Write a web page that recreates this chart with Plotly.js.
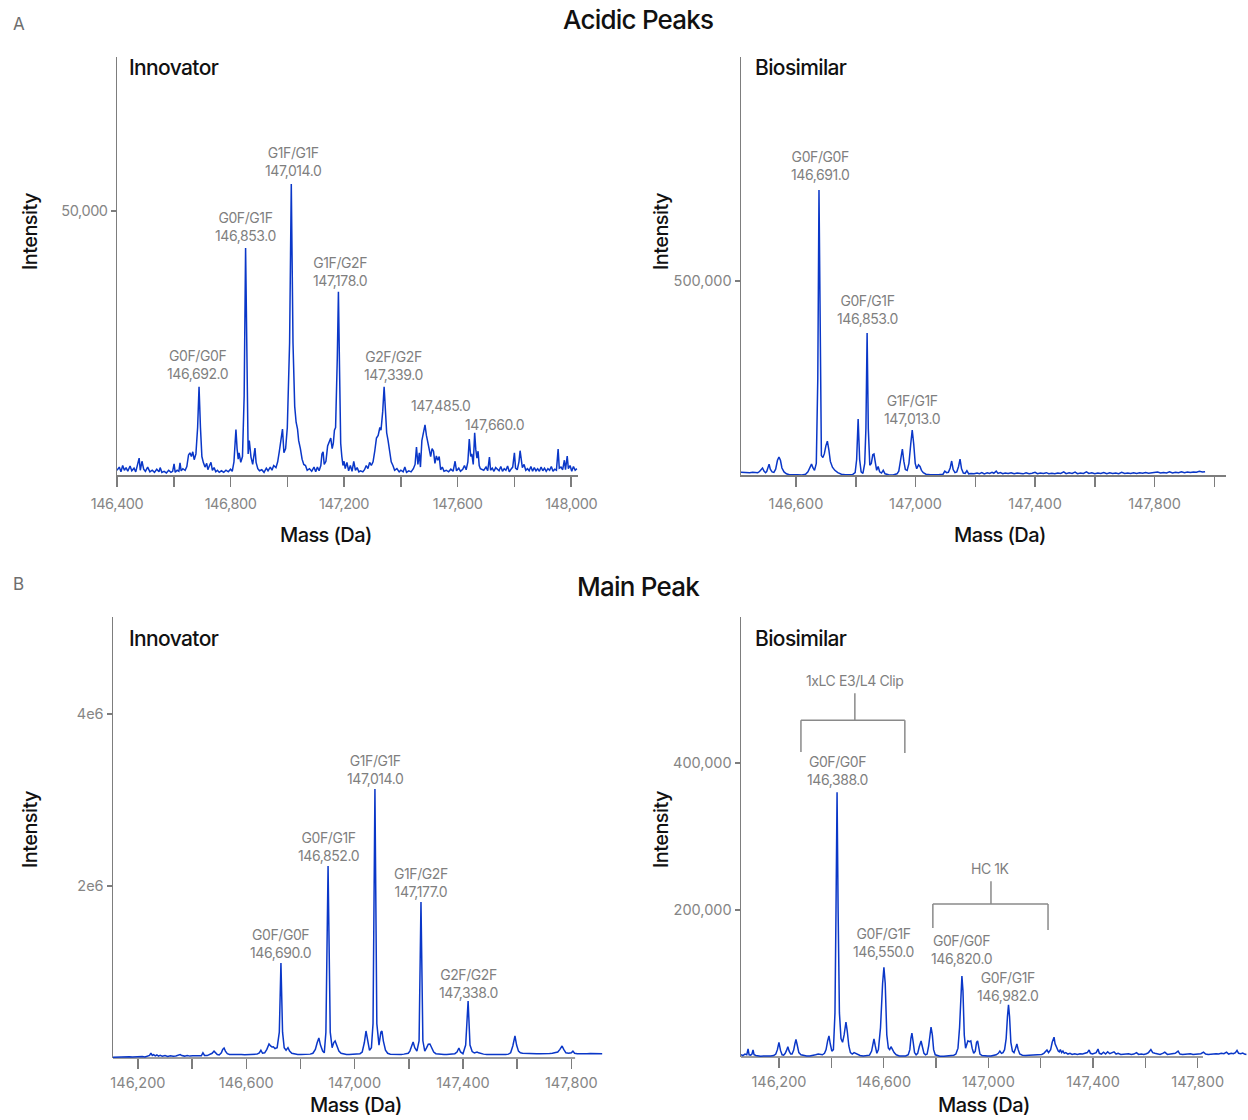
<!DOCTYPE html>
<html>
<head>
<meta charset="utf-8">
<script src="https://cdn.plot.ly/plotly-3.0.1.min.js"></script>
<style>
html, body { margin: 0; padding: 0; background: #ffffff; }
#chart { width: 1248px; height: 1120px; }
.xtick text, .ytick text, .annotation-text { letter-spacing: -0.03em; }
</style>
</head>
<body>
<div id="chart"></div>
<script>
// ---------- DATA ----------
// A. Acidic peaks, Innovator: [mass (Da), intensity]
const acidInnSpectrum = [
[146400,900],[146408,1500],[146414,600],[146420,1800],[146426,900],[146432,1400],[146438,700],[146446,1700],
[146452,800],[146460,1300],[146466,600],[146472,1900],[146478,3200],[146482,900],[146488,2600],[146494,1100],
[146500,700],[146508,1500],[146516,600],[146524,900],[146532,500],[146540,1100],[146548,600],[146552,1400],
[146558,500],[146566,700],[146574,400],[146582,900],[146590,500],[146596,700],[146601,2100],[146605,500],
[146612,900],[146618,700],[146622,2300],[146626,800],[146632,1200],[146640,900],[146646,1600],[146652,3800],
[146657,4200],[146662,3500],[146667,4400],[146672,2900],[146678,4000],[146684,9000],[146689,16700],[146694,9000],
[146699,3500],[146704,2400],[146710,1500],[146716,2200],[146720,1000],[146726,1800],[146731,2400],[146736,900],
[146742,1400],[146748,600],[146754,900],[146760,500],[146768,800],[146776,500],[146784,900],[146792,600],
[146800,1100],[146806,700],[146812,2500],[146816,6000],[146819,8600],[146823,5000],[146827,3000],[146830,4200],
[146836,2400],[146842,3500],[146848,15000],[146853,43000],[146858,15000],[146862,4000],[146866,6500],[146872,3400],
[146878,2000],[146886,5100],[146890,2400],[146896,1200],[146902,800],[146910,1000],[146918,500],[146926,1300],
[146932,800],[146940,1500],[146946,900],[146952,1800],[146960,1400],[146966,2500],[146972,4500],[146977,7000],
[146983,8700],[146988,4200],[146994,5000],[147000,9000],[147008,25000],[147014,55100],[147020,25000],[147026,13000],
[147031,10000],[147036,8700],[147040,6500],[147046,5000],[147052,3000],[147058,2000],[147064,1800],[147070,900],
[147078,1200],[147086,700],[147094,1500],[147100,600],[147106,1500],[147112,800],[147118,1800],[147122,4000],
[147126,4400],[147130,2000],[147136,2600],[147142,5500],[147148,6500],[147153,7000],[147158,5000],[147162,6000],
[147166,8500],[147170,9000],[147176,22000],[147180,34700],[147184,20000],[147188,6000],[147192,3500],[147196,1800],
[147200,2600],[147204,1200],[147210,2400],[147216,800],[147222,1800],[147228,700],[147234,2600],[147240,900],
[147246,1400],[147252,600],[147258,800],[147266,600],[147272,1000],[147278,1800],[147284,1200],[147290,2400],
[147296,1800],[147302,2500],[147308,4500],[147314,7000],[147320,7500],[147326,9000],[147330,8500],[147336,12000],
[147341,16700],[147346,11500],[147350,8000],[147355,6500],[147360,4500],[147366,2500],[147372,1800],[147378,900],
[147386,1200],[147394,600],[147400,900],[147408,600],[147414,1500],[147420,500],[147428,800],[147436,600],
[147444,1200],[147450,2000],[147455,5300],[147460,2000],[147465,4200],[147469,1500],[147474,6500],[147479,8000],
[147485,9500],[147490,7500],[147495,6300],[147500,4500],[147505,3500],[147510,5000],[147515,4500],[147520,2200],
[147525,3600],[147530,2800],[147535,3500],[147540,1000],[147546,1500],[147552,700],[147560,900],[147568,600],
[147576,1100],[147584,700],[147591,2600],[147596,800],[147604,1300],[147610,700],[147618,1100],[147624,1800],
[147630,1000],[147636,2500],[147641,6800],[147646,3500],[147650,4000],[147655,2000],[147660,8000],[147664,4800],
[147668,3200],[147672,4500],[147676,1800],[147680,1200],[147686,1000],[147692,900],[147700,1500],[147706,800],
[147712,3400],[147716,900],[147722,1300],[147728,700],[147734,1400],[147740,1100],[147746,800],[147752,1600],
[147758,700],[147764,1200],[147770,900],[147776,1700],[147782,600],[147788,1100],[147794,1500],[147800,4200],
[147804,1300],[147810,1000],[147816,2500],[147820,4600],[147824,3000],[147828,1400],[147834,2000],[147840,900],
[147846,1200],[147852,800],[147858,1600],[147864,700],[147870,1400],[147876,800],[147882,1200],[147888,700],
[147894,1500],[147900,800],[147906,1300],[147912,700],[147918,1200],[147924,900],[147930,1600],[147936,700],
[147942,1100],[147948,900],[147954,4900],[147958,1300],[147964,1500],[147970,1000],[147976,2800],[147980,1000],
[147986,3600],[147990,1200],[147996,1800],[148002,700],[148008,1600],[148014,900],[148020,1200]
];

// A. Acidic peaks, Biosimilar
const acidBioSpectrum = [
[146416,7000],[146425,6500],[146435,7500],[146445,6000],[146455,7000],[146465,5500],[146472,6000],[146478,9000],
[146484,16000],[146488,18000],[146493,10000],[146498,6000],[146502,9000],[146507,24000],[146510,28000],[146514,15000],
[146520,8000],[146526,7000],[146532,15000],[146538,38000],[146543,46000],[146548,38000],[146553,18000],[146560,8000],
[146568,3000],[146578,800],[146590,0],[146605,500],[146620,300],[146632,2000],[146640,8000],[146647,18000],
[146652,28000],[146657,18000],[146662,12000],[146668,30000],[146673,250000],[146677,734000],[146681,250000],[146685,50000],
[146690,45000],[146695,55000],[146700,75000],[146705,87000],[146710,65000],[146715,35000],[146722,20000],[146730,12000],
[146740,6000],[146752,2000],[146765,500],[146780,0],[146790,1500],[146798,6000],[146803,40000],[146808,144000],
[146813,40000],[146818,8000],[146824,4000],[146830,30000],[146834,120000],[146838,366000],[146842,120000],[146847,25000],
[146852,30000],[146857,52000],[146861,54000],[146866,30000],[146870,12000],[146875,22000],[146880,8000],[146886,5000],
[146892,12000],[146898,3000],[146910,500],[146925,0],[146938,3000],[146944,10000],[146950,35000],[146956,67000],
[146961,35000],[146966,14000],[146972,12000],[146978,30000],[146984,80000],[146989,116000],[146994,80000],[146999,30000],
[147004,16000],[147010,26000],[147015,22000],[147020,12000],[147026,6000],[147035,2000],[147050,500],[147065,300],
[147080,1000],[147092,2000],[147098,10000],[147104,6000],[147110,7000],[147116,18000],[147121,36000],[147126,14000],
[147132,6000],[147138,8000],[147144,22000],[147149,41000],[147154,16000],[147160,5000],[147166,4000],[147172,11000],
[147178,3000],[147186,4000],[147196,3000],[147206,5000],[147214,3500],[147222,6000],[147230,3000],[147240,5500],
[147248,4000],[147256,7000],[147262,4500],[147270,10000],[147276,4000],[147284,6500],[147292,3500],[147300,5000],
[147310,4000],[147320,6000],[147330,3500],[147340,5000],[147350,4000],[147360,3000],[147370,5500],[147380,3500],
[147390,4500],[147400,7000],[147408,3500],[147418,5000],[147428,4000],[147438,6000],[147446,3500],[147456,4500],
[147466,3000],[147476,5000],[147486,4000],[147496,8000],[147504,3500],[147514,5500],[147524,4000],[147534,7500],
[147542,3500],[147552,5000],[147562,4000],[147572,8000],[147580,4000],[147590,6000],[147600,3500],[147610,5000],
[147620,4000],[147630,6500],[147640,3500],[147650,5500],[147660,4000],[147670,5000],[147680,3500],[147690,7000],
[147700,4000],[147710,5000],[147720,4000],[147730,6000],[147740,4000],[147750,5500],[147760,4500],[147770,6500],
[147780,4500],[147790,5500],[147800,5000],[147810,7500],[147820,5000],[147830,6500],[147840,5500],[147850,8000],
[147860,5500],[147870,7000],[147880,6000],[147890,8500],[147900,6000],[147910,7500],[147920,6500],[147930,8000],
[147940,7000],[147950,9500],[147960,7500],[147969,8500]
];

// B. Main peak, Innovator
const mainInnSpectrum = [
[146108,10000],[146120,12000],[146132,8000],[146144,14000],[146156,10000],[146168,15000],[146180,11000],[146192,14000],
[146204,10000],[146216,16000],[146226,12000],[146236,18000],[146243,30000],[146248,58000],[146253,30000],[146258,40000],
[146264,25000],[146270,35000],[146276,22000],[146282,30000],[146290,20000],[146300,28000],[146310,18000],[146320,25000],
[146330,20000],[146340,24000],[146350,30000],[146356,40000],[146362,28000],[146372,22000],[146382,30000],[146392,22000],
[146402,26000],[146414,24000],[146424,28000],[146434,26000],[146440,60000],[146446,30000],[146456,28000],[146466,40000],
[146474,55000],[146481,80000],[146487,60000],[146493,40000],[146500,35000],[146508,60000],[146513,100000],[146518,116000],
[146523,80000],[146530,50000],[146538,40000],[146548,38000],[146558,40000],[146570,38000],[146582,40000],[146594,38000],
[146606,42000],[146618,40000],[146630,42000],[146640,45000],[146648,60000],[146654,90000],[146660,55000],[146668,60000],
[146676,100000],[146684,163000],[146690,140000],[146695,128000],[146700,130000],[146706,110000],[146714,120000],[146722,300000],
[146728,1105000],[146734,300000],[146740,120000],[146747,90000],[146754,120000],[146760,80000],[146768,55000],[146778,45000],
[146790,42000],[146802,40000],[146814,40000],[146826,42000],[146836,45000],[146846,55000],[146855,100000],[146862,180000],
[146868,233000],[146874,150000],[146882,80000],[146888,60000],[146894,300000],[146902,2233000],[146910,300000],[146917,120000],
[146923,180000],[146928,198000],[146934,150000],[146942,80000],[146950,55000],[146960,45000],[146970,42000],[146980,42000],
[146990,45000],[147000,44000],[147010,45000],[147020,50000],[147028,70000],[147036,180000],[147042,314000],[147048,200000],
[147055,90000],[147062,120000],[147068,400000],[147075,3128000],[147082,400000],[147090,150000],[147097,300000],[147101,314000],
[147106,200000],[147114,90000],[147122,55000],[147132,45000],[147142,42000],[147152,40000],[147162,42000],[147172,40000],
[147182,45000],[147192,50000],[147198,55000],[147204,80000],[147211,160000],[147216,186000],[147222,120000],[147230,80000],
[147238,200000],[147245,1814000],[147252,200000],[147259,80000],[147266,120000],[147272,160000],[147278,163000],[147284,120000],
[147292,70000],[147300,50000],[147310,45000],[147320,42000],[147330,40000],[147340,42000],[147350,45000],[147360,40000],
[147370,50000],[147378,70000],[147385,116000],[147391,70000],[147400,50000],[147410,150000],[147419,663000],[147426,150000],
[147434,75000],[147442,60000],[147448,65000],[147452,70000],[147458,60000],[147466,50000],[147476,45000],[147488,42000],
[147500,40000],[147512,42000],[147524,40000],[147536,42000],[147548,40000],[147558,42000],[147568,45000],[147576,60000],
[147584,140000],[147592,256000],[147598,150000],[147605,80000],[147612,60000],[147620,55000],[147630,52000],[147640,50000],
[147650,48000],[147660,50000],[147672,48000],[147684,50000],[147696,48000],[147708,50000],[147720,52000],[147730,55000],
[147740,60000],[147750,70000],[147758,100000],[147766,140000],[147772,100000],[147780,60000],[147790,55000],[147800,60000],
[147806,80000],[147812,55000],[147822,50000],[147834,48000],[147846,50000],[147858,48000],[147870,52000],[147882,50000],
[147894,48000],[147904,52000],[147914,50000]
];

// B. Main peak, Biosimilar
const mainBioSpectrum = [
[146055,3000],[146062,2000],[146070,4000],[146077,3000],[146082,11000],[146086,3000],[146092,2500],[146097,4000],
[146101,9500],[146105,3000],[146112,2000],[146120,1500],[146130,1000],[146142,1500],[146155,1200],[146168,1500],
[146180,2000],[146188,4000],[146194,10000],[146200,20000],[146206,9000],[146212,3000],[146218,2500],[146224,5000],
[146229,9000],[146234,14000],[146239,8000],[146245,4000],[146250,4000],[146256,9000],[146261,18000],[146265,24000],
[146270,16000],[146276,6000],[146284,3000],[146294,2000],[146306,1500],[146318,1500],[146330,2000],[146340,3000],
[146350,4000],[146358,3000],[146366,3000],[146374,5000],[146380,10000],[146386,22000],[146391,28600],[146396,18000],
[146402,8000],[146408,10000],[146414,60000],[146418,200000],[146422,360000],[146426,200000],[146431,60000],[146437,25000],
[146443,20000],[146449,30000],[146453,45000],[146456,47600],[146461,35000],[146467,15000],[146473,6000],[146480,4000],
[146487,6000],[146493,5000],[146500,3000],[146510,2000],[146522,1500],[146534,1500],[146546,2500],[146554,8000],
[146559,18000],[146563,24500],[146568,15000],[146574,5000],[146580,10000],[146588,40000],[146596,100000],[146601,122000],
[146606,100000],[146612,30000],[146618,12000],[146623,10000],[146628,14000],[146633,10000],[146640,6000],[146648,3000],
[146660,1500],[146672,1200],[146684,1500],[146694,3000],[146700,10000],[146704,25000],[146708,32600],[146713,20000],
[146718,6000],[146724,3000],[146730,5000],[146736,14000],[146740,20000],[146743,21800],[146748,14000],[146754,5000],
[146760,3000],[146766,4000],[146772,15000],[146777,35000],[146781,40800],[146786,30000],[146791,10000],[146797,3000],
[146805,2000],[146815,1000],[146830,1000],[146845,1200],[146858,1500],[146868,2500],[146876,4000],[146884,12000],
[146890,40000],[146895,90000],[146899,110000],[146903,90000],[146908,30000],[146913,12000],[146918,20000],[146922,22000],
[146928,21000],[146933,22000],[146938,12000],[146944,5000],[146950,8000],[146955,20000],[146959,22000],[146963,12000],
[146968,4000],[146976,2000],[146986,1500],[146998,1500],[147010,1500],[147020,2000],[147030,3000],[147038,5000],
[147044,8000],[147050,5000],[147056,6000],[147062,10000],[147068,25000],[147073,55000],[147077,71000],[147081,55000],
[147086,20000],[147092,8000],[147098,6000],[147104,12000],[147109,17700],[147114,10000],[147120,4000],[147130,2500],
[147142,2000],[147155,2500],[147168,2500],[147180,3000],[147192,2500],[147204,3500],[147212,5000],[147218,8000],
[147224,9500],[147230,6000],[147238,10000],[147244,20000],[147248,26000],[147251,27000],[147255,18000],[147259,14000],
[147263,12000],[147267,8000],[147271,7000],[147275,10000],[147280,6000],[147285,8000],[147290,5000],[147296,6000],
[147304,4000],[147312,5000],[147320,3500],[147330,4500],[147340,3500],[147350,4500],[147360,4000],[147370,5000],
[147378,6000],[147385,9500],[147390,5000],[147398,4000],[147406,5000],[147412,6000],[147419,10900],[147424,5000],
[147432,4000],[147440,6500],[147448,4000],[147456,7000],[147464,4500],[147472,5500],[147480,7000],[147488,4000],
[147496,5000],[147506,3500],[147516,4000],[147526,3500],[147536,4500],[147546,3500],[147556,4000],[147566,6000],
[147574,3500],[147584,4000],[147594,3500],[147604,4500],[147612,6000],[147621,10000],[147628,6000],[147636,5000],
[147646,4000],[147656,3500],[147666,5000],[147674,6500],[147684,3500],[147694,4000],[147704,3500],[147714,5000],
[147725,8000],[147732,4000],[147742,3500],[147752,4000],[147762,3500],[147772,4500],[147782,3500],[147792,4000],
[147802,3500],[147812,4500],[147822,6500],[147830,4000],[147840,3500],[147850,4000],[147860,3500],[147870,4500],
[147880,4000],[147890,5000],[147900,4500],[147910,6500],[147918,4000],[147928,5000],[147936,4500],[147944,6000],
[147950,9000],[147956,5000],[147964,4500],[147972,5500],[147978,4000],[147986,3500]
];

// Peak labels: text, mass position, intensity position
const acidInnLabelText = ['G0F/G0F<br>146,692.0','G0F/G1F<br>146,853.0','G1F/G1F<br>147,014.0','G1F/G2F<br>147,178.0','G2F/G2F<br>147,339.0','147,485.0','147,660.0'];
const acidInnLabelMass = [146685, 146851, 147020, 147186, 147373, 147542, 147729];
const acidInnLabelInt  = [17200, 43400, 55700, 34900, 17000, 11200, 7600];

const acidBioLabelText = ['G0F/G0F<br>146,691.0','G0F/G1F<br>146,853.0','G1F/G1F<br>147,013.0'];
const acidBioLabelMass = [146680, 146838, 146988];
const acidBioLabelInt  = [747000, 376000, 118500];

const mainInnLabelText = ['G0F/G0F<br>146,690.0','G0F/G1F<br>146,852.0','G1F/G1F<br>147,014.0','G1F/G2F<br>147,177.0','G2F/G2F<br>147,338.0'];
const mainInnLabelMass = [146728, 146902, 147075, 147245, 147419];
const mainInnLabelInt  = [1105000, 2233000, 3128000, 1814000, 640000];

const mainBioLabelText = ['G0F/G0F<br>146,388.0','G0F/G1F<br>146,550.0','G0F/G0F<br>146,820.0','G0F/G1F<br>146,982.0','1xLC E3/L4 Clip','HC 1K'];
const mainBioLabelMass = [146422, 146601, 146899, 147075, 146490, 147010];
const mainBioLabelInt  = [363000, 129000, 120000, 69400, 498000, 242000];

// Tick values and labels
const acidInnTickVals = [146400,146600,146800,147000,147200,147400,147600,147800,148000];
const acidInnTickText = ['146,400','','146,800','','147,200','','147,600','','148,000'];
const acidBioTickVals = [146600,146800,147000,147200,147400,147600,147800,148000];
const acidBioTickText = ['146,600','','147,000','','147,400','','147,800',''];
const mainTickVals = [146200,146400,146600,146800,147000,147200,147400,147600,147800];
const mainTickText = ['146,200','','146,600','','147,000','','147,400','','147,800'];
const acidInnYTickVals = [50000];
const acidInnYTickText = ['50,000'];
const acidBioYTickVals = [500000];
const acidBioYTickText = ['500,000'];
const mainInnYTickVals = [2000000, 4000000];
const mainInnYTickText = ['2e6', '4e6'];
const mainBioYTickVals = [200000, 400000];
const mainBioYTickText = ['200,000', '400,000'];

// ---------- CHART ----------
const FONT = "Inter, 'Noto Sans', sans-serif";
const LINE_BLUE = '#0a37c8';
const AXIS_GREY = '#7d7d7d';
const TICK_GREY = '#858585';
const LABEL_GREY = '#7f7f7f';
const TITLE_BLACK = '#111111';

function spectrumTrace(points, xa, ya) {
  return {
    type: 'scatter', mode: 'lines',
    x: points.map(p => p[0]), y: points.map(p => p[1]),
    xaxis: xa, yaxis: ya,
    line: { color: LINE_BLUE, width: 1.5 },
    hoverinfo: 'skip', showlegend: false
  };
}

function xAxis(domain, range, tickvals, ticktext, anchor, showline, standoff) {
  return {
    domain: domain, range: range, anchor: anchor,
    tickmode: 'array', tickvals: tickvals, ticktext: ticktext,
    ticks: 'outside', ticklen: 10, tickwidth: 1.5, tickcolor: AXIS_GREY,
    ticklabelstandoff: standoff,
    showline: showline, linecolor: AXIS_GREY, linewidth: 1.5,
    showgrid: false, zeroline: false,
    tickfont: { family: FONT, size: 14.5, color: TICK_GREY }
  };
}
function yAxis(domain, range, tickvals, ticktext, anchor) {
  return {
    domain: domain, range: range, anchor: anchor,
    tickmode: 'array', tickvals: tickvals, ticktext: ticktext,
    ticks: 'outside', ticklen: 5, tickwidth: 1.5, tickcolor: AXIS_GREY,
    showline: true, linecolor: AXIS_GREY, linewidth: 1.5,
    showgrid: false, zeroline: false,
    tickfont: { family: FONT, size: 14.5, color: TICK_GREY }
  };
}

function peakLabels(texts, masses, ints, xa, ya) {
  return texts.map((t, i) => ({
    text: t, x: masses[i], y: ints[i], xref: xa, yref: ya,
    xanchor: 'center', yanchor: 'bottom', showarrow: false,
    font: { family: FONT, size: 14, color: LABEL_GREY }
  }));
}

function paperText(text, x, y, size, color, xanchor, angle, weight) {
  return { text: text, x: x, y: y, xref: 'paper', yref: 'paper', xanchor: xanchor, yanchor: 'middle',
           textangle: angle || 0, showarrow: false,
           font: { family: FONT, size: size, color: color, weight: weight || 400 } };
}
const px = v => v / 1248;
const py = v => 1 - v / 1120;

const traces = [
  spectrumTrace(acidInnSpectrum, 'x', 'y'),
  spectrumTrace(acidBioSpectrum, 'x2', 'y2'),
  spectrumTrace(mainInnSpectrum, 'x3', 'y3'),
  spectrumTrace(mainBioSpectrum, 'x4', 'y4')
];

const BR = { color: '#8a8a8a', width: 1.5 };
function seg(xref, yref, x0, y0, x1, y1, line, layer) {
  return { type: 'line', xref: xref, yref: yref, x0: x0, y0: y0, x1: x1, y1: y1, line: line, layer: layer || 'above' };
}

const shapes = [
  // x axis lines of the Main Peak panels (shorter than the data, as in the reference)
  seg('x3', 'y3 domain', 146108, 0, 147814, 0, { color: AXIS_GREY, width: 1.5 }, 'below'),
  seg('x4', 'y4 domain', 146055, 0, 147820, 0, { color: AXIS_GREY, width: 1.5 }, 'below'),
  // bracket: 1xLC E3/L4 Clip
  seg('x4', 'y4', 146490, 458000, 146490, 495000, BR),
  seg('x4', 'y4', 146284, 458000, 146681, 458000, BR),
  seg('x4', 'y4', 146284, 415000, 146284, 458000, BR),
  seg('x4', 'y4', 146681, 413600, 146681, 458000, BR),
  // bracket: HC 1K
  seg('x4', 'y4', 147010, 208000, 147010, 239000, BR),
  seg('x4', 'y4', 146788, 208000, 147228, 208000, BR),
  seg('x4', 'y4', 146788, 175500, 146788, 208000, BR),
  seg('x4', 'y4', 147228, 172800, 147228, 208000, BR)
];

const annotations = [].concat(
  peakLabels(acidInnLabelText, acidInnLabelMass, acidInnLabelInt, 'x', 'y'),
  peakLabels(acidBioLabelText, acidBioLabelMass, acidBioLabelInt, 'x2', 'y2'),
  peakLabels(mainInnLabelText, mainInnLabelMass, mainInnLabelInt, 'x3', 'y3'),
  peakLabels(mainBioLabelText, mainBioLabelMass, mainBioLabelInt, 'x4', 'y4'),
  [
    paperText('Acidic Peaks', px(638), py(19), 26, TITLE_BLACK, 'center', 0, 500),
    paperText('Main Peak', px(638), py(586), 26, TITLE_BLACK, 'center', 0, 500),
    paperText('A', px(11), py(24), 17, '#6e6e6e', 'left'),
    paperText('B', px(11), py(584), 17, '#6e6e6e', 'left'),
    paperText('Innovator', px(127), py(67), 21, TITLE_BLACK, 'left', 0, 500),
    paperText('Biosimilar', px(753), py(67), 21, TITLE_BLACK, 'left', 0, 500),
    paperText('Innovator', px(127), py(638), 21, TITLE_BLACK, 'left', 0, 500),
    paperText('Biosimilar', px(753), py(638), 21, TITLE_BLACK, 'left', 0, 500),
    // axis titles
    paperText('Intensity', px(30), py(231), 20, TITLE_BLACK, 'center', -90, 500),
    paperText('Intensity', px(661), py(231), 20, TITLE_BLACK, 'center', -90, 500),
    paperText('Intensity', px(30), py(829), 20, TITLE_BLACK, 'center', -90, 500),
    paperText('Intensity', px(661), py(829), 20, TITLE_BLACK, 'center', -90, 500),
    paperText('Mass (Da)', px(326), py(535), 20, TITLE_BLACK, 'center', 0, 500),
    paperText('Mass (Da)', px(1000), py(535), 20, TITLE_BLACK, 'center', 0, 500),
    paperText('Mass (Da)', px(356), py(1105), 20, TITLE_BLACK, 'center', 0, 500),
    paperText('Mass (Da)', px(984), py(1105), 20, TITLE_BLACK, 'center', 0, 500)
  ]
);

const layout = {
  width: 1248, height: 1120,
  margin: { l: 0, r: 0, t: 0, b: 0 },
  paper_bgcolor: '#ffffff', plot_bgcolor: '#ffffff',
  showlegend: false,
  hovermode: false,
  font: { family: FONT },
  xaxis:  xAxis([px(117), px(578)], [146400, 148024], acidInnTickVals, acidInnTickText, 'y', true, 5),
  yaxis:  yAxis([py(475), py(57)], [0, 79170], acidInnYTickVals, acidInnYTickText, 'x'),
  xaxis2: xAxis([px(741), px(1226)], [146416, 148039], acidBioTickVals, acidBioTickText, 'y2', true, 5),
  yaxis2: yAxis([py(475), py(57)], [0, 1077000], acidBioYTickVals, acidBioYTickText, 'x2'),
  xaxis3: xAxis([px(113), px(603)], [146108, 147917], mainTickVals, mainTickText, 'y3', false, 2),
  yaxis3: yAxis([py(1058), py(617)], [0, 5128000], mainInnYTickVals, mainInnYTickText, 'x3'),
  xaxis4: xAxis([px(741), 1], [146055, 147992], mainTickVals, mainTickText, 'y4', false, 2),
  yaxis4: yAxis([py(1057), py(617)], [0, 598600], mainBioYTickVals, mainBioYTickText, 'x4'),
  shapes: shapes,
  annotations: annotations
};

Plotly.newPlot('chart', traces, layout, { displayModeBar: false, staticPlot: true });
</script>
</body>
</html>
